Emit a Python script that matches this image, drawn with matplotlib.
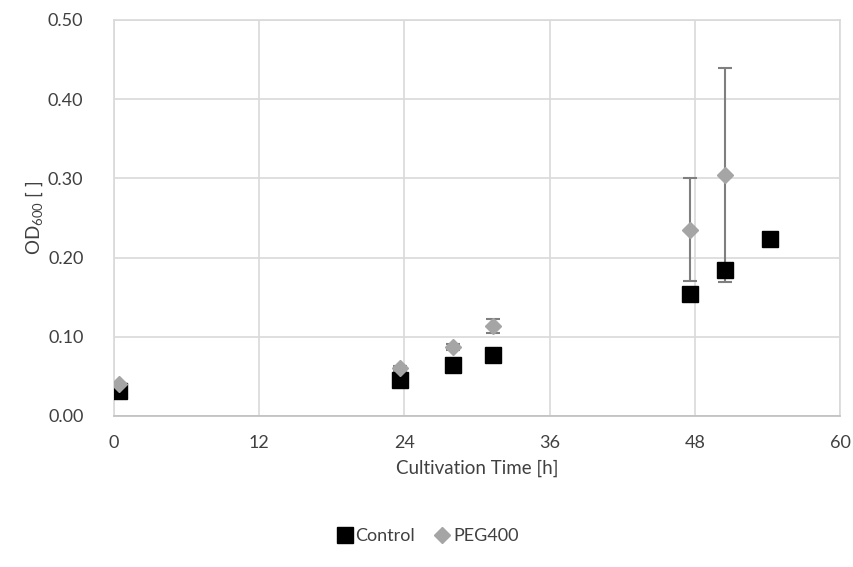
import matplotlib
matplotlib.use("Agg")
import matplotlib.pyplot as plt

plt.rcParams['font.family'] = ['Lato', 'DejaVu Sans']

# data
ctrl_t = [0.4, 23.6, 28.0, 31.3, 47.6, 50.5, 54.2]
ctrl_od = [0.032, 0.045, 0.065, 0.077, 0.154, 0.184, 0.224]

peg_t = [0.4, 23.6, 28.0, 31.3, 47.6, 50.5]
peg_od = [0.040, 0.060, 0.087, 0.114, 0.235, 0.304]
peg_err = [0.002, 0.003, 0.004, 0.009, 0.065, 0.135]

x_ticks = [0, 12, 24, 36, 48, 60]
y_ticks = [0.0, 0.1, 0.2, 0.3, 0.4, 0.5]

fig = plt.figure(figsize=(8.54, 5.67), dpi=100)
ax = fig.add_axes([114/854, 1 - 416/567, (840-114)/854, (416-20)/567])

grid_c = '#d9d9d9'
ax.set_xlim(0, 60)
ax.set_ylim(0, 0.5)
ax.set_xticks(x_ticks)
ax.set_yticks(y_ticks)
ax.set_yticklabels([f"{v:.2f}" for v in y_ticks])
ax.grid(True, color=grid_c, linewidth=1.2)
ax.set_axisbelow(True)
for s in ax.spines.values():
    s.set_color(grid_c)
    s.set_linewidth(1.2)
ax.spines['bottom'].set_color('#bfbfbf')
ax.tick_params(length=0, labelsize=13, colors='#404040')
ax.tick_params(axis='y', pad=22)
ax.tick_params(axis='x', pad=14)

ax.errorbar(peg_t, peg_od, yerr=peg_err, fmt='none', ecolor='#7f7f7f',
            elinewidth=1.5, capsize=5, capthick=1.5, zorder=2)
ax.plot(ctrl_t, ctrl_od, linestyle='none', marker='s', markersize=11,
        color='black', label='Control', zorder=3)
ax.plot(peg_t, peg_od, linestyle='none', marker='D', markersize=8,
        color='#a5a5a5', label='PEG400', zorder=4)

ax.set_xlabel('Cultivation Time [h]', fontsize=13.5, color='#404040', labelpad=6)
ax.set_ylabel(r'OD$_{\mathregular{600}}$ [ ]', fontsize=13.5, color='#404040', labelpad=2)

fig.legend(loc='center', bbox_to_anchor=(0.5, 1 - 536/567), ncol=2, frameon=False,
           fontsize=13, handletextpad=0.1, columnspacing=1.0, handlelength=1.0,
           labelcolor='#404040')

fig.savefig('out.png', dpi=100)
